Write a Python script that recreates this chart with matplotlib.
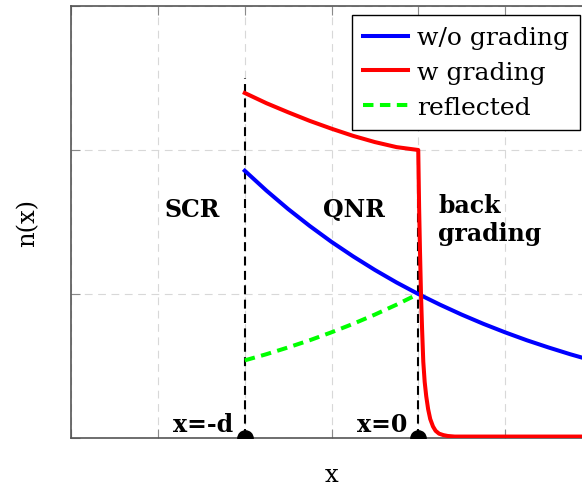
import matplotlib
matplotlib.use("Agg")
import matplotlib.pyplot as plt

# Carrier density without grading (exponential decay through the device)
x_blue = [-1.0, -0.875, -0.75, -0.625, -0.5, -0.375, -0.25, -0.125, 0.0,
          0.125, 0.25, 0.375, 0.5, 0.625, 0.75, 0.875, 1.0]
n_blue = [1.856, 1.718, 1.590, 1.472, 1.362, 1.261, 1.167, 1.080, 1.0,
          0.926, 0.857, 0.793, 0.734, 0.679, 0.629, 0.582, 0.539]

# Carrier density with back grading
x_red = [-1.0, -0.875, -0.75, -0.625, -0.5, -0.375, -0.25, -0.125, 0.0,
         0.005, 0.01, 0.016, 0.022, 0.029, 0.037, 0.046, 0.057, 0.069,
         0.085, 0.1, 0.12, 0.145, 0.17, 0.21, 1.0]
n_red = [2.396, 2.325, 2.262, 2.202, 2.148, 2.098, 2.055, 2.02, 2.0,
         1.6, 1.3, 0.99, 0.76, 0.53, 0.39, 0.29, 0.2, 0.132,
         0.08, 0.05, 0.03, 0.02, 0.014, 0.01, 0.01]

# Reflected component
x_green = [-1.0, -0.875, -0.75, -0.625, -0.5, -0.375, -0.25, -0.125, 0.0]
n_green = [0.539, 0.582, 0.629, 0.679, 0.734, 0.793, 0.857, 0.926, 1.0]

# Region boundaries: x = -d and x = 0
x_bounds = [-1.0, 0.0]
bound_tops = [2.5, 2.0]

x_ticks = [-2.0, -1.5, -1.0, -0.5, 0.0, 0.5, 1.0]
y_ticks = [0.0, 1.0, 2.0, 3.0]

plt.rcParams["font.family"] = ["DejaVu Serif"]

fig = plt.figure(figsize=(5.82, 4.89), dpi=100)
ax = fig.add_axes([71.25 / 582, 50 / 489, 520.5 / 582, 432 / 489])
ax.set_xlim(-2.0, 1.0)
ax.set_ylim(0.0, 3.0)

ax.set_xticks(x_ticks)
ax.set_yticks(y_ticks)
ax.set_xticklabels([])
ax.set_yticklabels([])
ax.tick_params(direction="in", length=6.5, width=0.8, color="#8a8a8a",
               top=True, right=True)
ax.grid(True, color="#d8d8d8", linewidth=0.8, linestyle=(0, (7, 5)))
for s in ax.spines.values():
    s.set_color("#555555")
    s.set_linewidth(1.2)

# Boundary markers
for xb, top in zip(x_bounds, bound_tops):
    ax.plot([xb, xb], [0.0, top], color="black", linewidth=1.5,
            linestyle=(0, (4.3, 2.6)), zorder=3)
ax.plot(x_bounds, [0.0, 0.0], linestyle="none", marker="o", markersize=11,
        color="black", zorder=6)

ax.plot(x_blue, n_blue, color="#0000ff", linewidth=2.9, label="w/o grading",
        zorder=4)
ax.plot(x_red, n_red, color="#ff0000", linewidth=2.9, label="w grading",
        zorder=5)
ax.plot(x_green, n_green, color="#00ff00", linewidth=2.9,
        linestyle=(0, (2.6, 1.6)), label="reflected", zorder=4)

bold = dict(fontsize=17, fontweight="bold", color="black")
ax.text(-1.303, 1.542, "SCR", ha="center", va="baseline", **bold)
ax.text(-0.369, 1.545, "QNR", ha="center", va="baseline", **bold)
ax.text(0.115, 1.572, "back", ha="left", va="baseline", **bold)
ax.text(0.115, 1.378, "grading", ha="left", va="baseline", **bold)
ax.text(-1.066, 0.049, "x=-d", ha="right", va="baseline", **bold)
ax.text(-0.063, 0.049, "x=0", ha="right", va="baseline", **bold)

ax.set_xlabel("x", fontsize=17.5)
ax.xaxis.set_label_coords(0.5, -43 / 432)
ax.xaxis.label.set_verticalalignment("baseline")
ax.text(-43 / 520.5, 0.5, "n(x)", transform=ax.transAxes, rotation=90,
        ha="center", va="center", fontsize=17.5)

leg = ax.legend(loc="upper right", bbox_to_anchor=(580 / 582, 473 / 489),
                bbox_transform=fig.transFigure, borderaxespad=0,
                fancybox=False, framealpha=1, edgecolor="black",
                fontsize=18, handlelength=1.8, handletextpad=0.36,
                borderpad=0.45, labelspacing=0.47)
leg.get_frame().set_linewidth(1.0)

fig.savefig("out.png", dpi=100)
